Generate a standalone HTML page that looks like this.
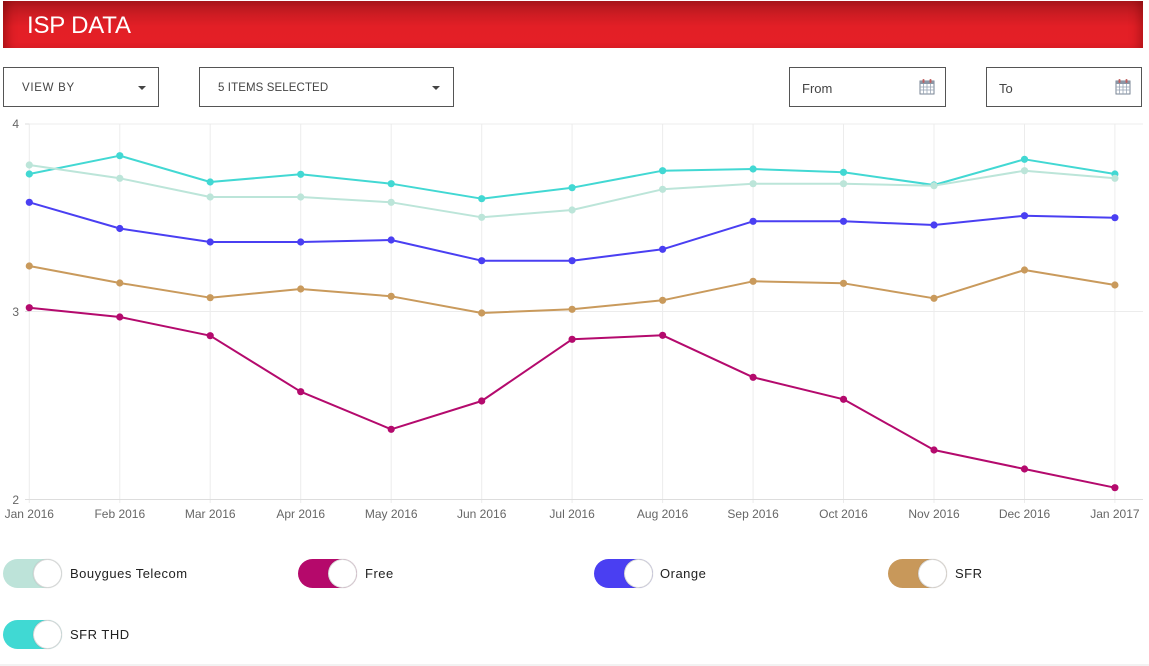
<!DOCTYPE html>
<html><head><meta charset="utf-8"><style>
*{margin:0;padding:0;box-sizing:border-box}
html,body{width:1149px;height:666px;background:#fff;overflow:hidden;font-family:"Liberation Sans",Arial,sans-serif}
.hdr{position:absolute;left:3px;top:1px;width:1140px;height:47px;background:linear-gradient(to bottom,#ad171c 0%,#cf1c23 30%,#e31f26 55%,#e41f27 100%);box-shadow:inset 10px 0 10px -6px rgba(90,0,0,.45),inset -10px 0 10px -6px rgba(90,0,0,.35)}
.hdr span{position:absolute;left:24px;top:11px;color:#fff;font-size:24px;letter-spacing:-0.2px}
.box{position:absolute;border:1.5px solid #555;background:#fff;color:#444}
.box .t{position:absolute;font-size:11.5px;top:14px}
.caret{position:absolute;width:0;height:0;border-left:4px solid transparent;border-right:4px solid transparent;border-top:4px solid #444;top:18px}
.tg{position:absolute;width:59px;height:29px;border-radius:15px}
.tg .k{position:absolute;right:0;top:0;width:29px;height:29px;border-radius:50%;background:#fff;border:1.5px solid rgba(0,0,0,.15);box-shadow:0 0 1px rgba(0,0,0,.2)}
.lt{position:absolute;font-size:13px;color:#222;letter-spacing:.5px}
</style></head><body>
<div class="hdr"><span>ISP DATA</span></div>

<div class="box" style="left:3px;top:67px;width:156px;height:40px"><span class="t" style="left:18px;letter-spacing:.7px">VIEW BY</span><div class="caret" style="left:134px"></div></div>
<div class="box" style="left:199px;top:67px;width:255px;height:40px"><span class="t" style="left:18px;letter-spacing:.1px">5 ITEMS SELECTED</span><div class="caret" style="left:232px"></div></div>
<div class="box" style="left:789px;top:67px;width:157px;height:40px"><span class="t" style="left:12px;font-size:13px;top:13px">From</span>
<svg style="position:absolute;left:129px;top:10px" width="16" height="17" viewBox="0 0 16 17"><rect x="1" y="3" width="14" height="13" fill="#fff" stroke="#7a8696" stroke-width="1"/><rect x="1" y="3" width="14" height="3" fill="#8a96a6"/><g stroke="#9aa6b6" stroke-width=".8"><line x1="1" y1="9" x2="15" y2="9"/><line x1="1" y1="12" x2="15" y2="12"/><line x1="4.5" y1="6" x2="4.5" y2="16"/><line x1="8" y1="6" x2="8" y2="16"/><line x1="11.5" y1="6" x2="11.5" y2="16"/></g><rect x="3.5" y="1" width="2" height="4" rx="1" fill="#c06060"/><rect x="10.5" y="1" width="2" height="4" rx="1" fill="#c06060"/></svg></div>
<div class="box" style="left:986px;top:67px;width:156px;height:40px"><span class="t" style="left:12px;font-size:13px;top:13px">To</span>
<svg style="position:absolute;left:128px;top:10px" width="16" height="17" viewBox="0 0 16 17"><rect x="1" y="3" width="14" height="13" fill="#fff" stroke="#7a8696" stroke-width="1"/><rect x="1" y="3" width="14" height="3" fill="#8a96a6"/><g stroke="#9aa6b6" stroke-width=".8"><line x1="1" y1="9" x2="15" y2="9"/><line x1="1" y1="12" x2="15" y2="12"/><line x1="4.5" y1="6" x2="4.5" y2="16"/><line x1="8" y1="6" x2="8" y2="16"/><line x1="11.5" y1="6" x2="11.5" y2="16"/></g><rect x="3.5" y="1" width="2" height="4" rx="1" fill="#c06060"/><rect x="10.5" y="1" width="2" height="4" rx="1" fill="#c06060"/></svg></div>

<svg style="position:absolute;left:0;top:110px" width="1149" height="420" viewBox="0 110 1149 420">
<g stroke="#ececec" stroke-width="1">
<line x1="29.3" y1="124" x2="1143" y2="124"/>
<line x1="29.3" y1="311.5" x2="1143" y2="311.5"/>
<line x1="29.3" y1="124" x2="29.3" y2="503"/>
<line x1="119.8" y1="124" x2="119.8" y2="503"/>
<line x1="210.2" y1="124" x2="210.2" y2="503"/>
<line x1="300.7" y1="124" x2="300.7" y2="503"/>
<line x1="391.2" y1="124" x2="391.2" y2="503"/>
<line x1="481.7" y1="124" x2="481.7" y2="503"/>
<line x1="572.1" y1="124" x2="572.1" y2="503"/>
<line x1="662.6" y1="124" x2="662.6" y2="503"/>
<line x1="753.1" y1="124" x2="753.1" y2="503"/>
<line x1="843.5" y1="124" x2="843.5" y2="503"/>
<line x1="934" y1="124" x2="934" y2="503"/>
<line x1="1024.5" y1="124" x2="1024.5" y2="503"/>
<line x1="1114.9" y1="124" x2="1114.9" y2="503"/>
</g>
<g stroke="#ddd" stroke-width="1">
<line x1="29.3" y1="499.5" x2="1143" y2="499.5"/>
<line x1="25" y1="124" x2="29.3" y2="124"/>
<line x1="25" y1="311.5" x2="29.3" y2="311.5"/>
<line x1="25" y1="499.5" x2="29.3" y2="499.5"/>
</g>
<g font-size="12" fill="#666" text-anchor="end">
<text x="19" y="128">4</text><text x="19" y="316">3</text><text x="19" y="504">2</text>
</g>
<g font-size="12" fill="#666" text-anchor="middle">
<text x="29.3" y="518">Jan 2016</text><text x="119.8" y="518">Feb 2016</text><text x="210.2" y="518">Mar 2016</text><text x="300.7" y="518">Apr 2016</text><text x="391.2" y="518">May 2016</text><text x="481.7" y="518">Jun 2016</text><text x="572.1" y="518">Jul 2016</text><text x="662.6" y="518">Aug 2016</text><text x="753.1" y="518">Sep 2016</text><text x="843.5" y="518">Oct 2016</text><text x="934" y="518">Nov 2016</text><text x="1024.5" y="518">Dec 2016</text><text x="1114.9" y="518">Jan 2017</text>
</g>
<g fill="none" stroke-width="2" stroke-linejoin="round">
<polyline stroke="#42d8d3" points="29.3,174 119.8,155.7 210.2,182 300.7,174.3 391.2,183.7 481.7,198.7 572.1,187.7 662.6,170.7 753.1,169 843.5,172.3 934,185 1024.5,159.3 1114.9,174"/>
<polyline stroke="#bce5d9" points="29.3,165 119.8,178.3 210.2,197 300.7,197 391.2,202.3 481.7,217.3 572.1,210 662.6,189.3 753.1,183.7 843.5,183.7 934,185.7 1024.5,170.7 1114.9,178.3"/>
<polyline stroke="#4a3ff2" points="29.3,202.3 119.8,228.5 210.2,242 300.7,242 391.2,240 481.7,260.7 572.1,260.7 662.6,249.3 753.1,221.3 843.5,221.3 934,225 1024.5,215.7 1114.9,217.7"/>
<polyline stroke="#c99a5c" points="29.3,266 119.8,283 210.2,297.7 300.7,289 391.2,296.3 481.7,313 572.1,309.3 662.6,300.3 753.1,281.3 843.5,283.3 934,298.3 1024.5,270 1114.9,285"/>
<polyline stroke="#b40a6d" points="29.3,307.7 119.8,317 210.2,335.7 300.7,391.7 391.2,429.3 481.7,401 572.1,339.3 662.6,335.3 753.1,377.3 843.5,399.3 934,450 1024.5,469 1114.9,487.7"/>
</g>
<g fill="#42d8d3"><circle cx="29.3" cy="174" r="3.6"/><circle cx="119.8" cy="155.7" r="3.6"/><circle cx="210.2" cy="182" r="3.6"/><circle cx="300.7" cy="174.3" r="3.6"/><circle cx="391.2" cy="183.7" r="3.6"/><circle cx="481.7" cy="198.7" r="3.6"/><circle cx="572.1" cy="187.7" r="3.6"/><circle cx="662.6" cy="170.7" r="3.6"/><circle cx="753.1" cy="169" r="3.6"/><circle cx="843.5" cy="172.3" r="3.6"/><circle cx="934" cy="185" r="3.6"/><circle cx="1024.5" cy="159.3" r="3.6"/><circle cx="1114.9" cy="174" r="3.6"/></g>
<g fill="#bce5d9"><circle cx="29.3" cy="165" r="3.6"/><circle cx="119.8" cy="178.3" r="3.6"/><circle cx="210.2" cy="197" r="3.6"/><circle cx="300.7" cy="197" r="3.6"/><circle cx="391.2" cy="202.3" r="3.6"/><circle cx="481.7" cy="217.3" r="3.6"/><circle cx="572.1" cy="210" r="3.6"/><circle cx="662.6" cy="189.3" r="3.6"/><circle cx="753.1" cy="183.7" r="3.6"/><circle cx="843.5" cy="183.7" r="3.6"/><circle cx="934" cy="185.7" r="3.6"/><circle cx="1024.5" cy="170.7" r="3.6"/><circle cx="1114.9" cy="178.3" r="3.6"/></g>
<g fill="#4a3ff2"><circle cx="29.3" cy="202.3" r="3.6"/><circle cx="119.8" cy="228.5" r="3.6"/><circle cx="210.2" cy="242" r="3.6"/><circle cx="300.7" cy="242" r="3.6"/><circle cx="391.2" cy="240" r="3.6"/><circle cx="481.7" cy="260.7" r="3.6"/><circle cx="572.1" cy="260.7" r="3.6"/><circle cx="662.6" cy="249.3" r="3.6"/><circle cx="753.1" cy="221.3" r="3.6"/><circle cx="843.5" cy="221.3" r="3.6"/><circle cx="934" cy="225" r="3.6"/><circle cx="1024.5" cy="215.7" r="3.6"/><circle cx="1114.9" cy="217.7" r="3.6"/></g>
<g fill="#c99a5c"><circle cx="29.3" cy="266" r="3.6"/><circle cx="119.8" cy="283" r="3.6"/><circle cx="210.2" cy="297.7" r="3.6"/><circle cx="300.7" cy="289" r="3.6"/><circle cx="391.2" cy="296.3" r="3.6"/><circle cx="481.7" cy="313" r="3.6"/><circle cx="572.1" cy="309.3" r="3.6"/><circle cx="662.6" cy="300.3" r="3.6"/><circle cx="753.1" cy="281.3" r="3.6"/><circle cx="843.5" cy="283.3" r="3.6"/><circle cx="934" cy="298.3" r="3.6"/><circle cx="1024.5" cy="270" r="3.6"/><circle cx="1114.9" cy="285" r="3.6"/></g>
<g fill="#b40a6d"><circle cx="29.3" cy="307.7" r="3.6"/><circle cx="119.8" cy="317" r="3.6"/><circle cx="210.2" cy="335.7" r="3.6"/><circle cx="300.7" cy="391.7" r="3.6"/><circle cx="391.2" cy="429.3" r="3.6"/><circle cx="481.7" cy="401" r="3.6"/><circle cx="572.1" cy="339.3" r="3.6"/><circle cx="662.6" cy="335.3" r="3.6"/><circle cx="753.1" cy="377.3" r="3.6"/><circle cx="843.5" cy="399.3" r="3.6"/><circle cx="934" cy="450" r="3.6"/><circle cx="1024.5" cy="469" r="3.6"/><circle cx="1114.9" cy="487.7" r="3.6"/></g>
</svg>

<div class="tg" style="left:3px;top:559px;background:#bde3d9"><div class="k"></div></div>
<div class="lt" style="left:70px;top:566px">Bouygues Telecom</div>
<div class="tg" style="left:298px;top:559px;background:#b5096b"><div class="k"></div></div>
<div class="lt" style="left:365px;top:566px">Free</div>
<div class="tg" style="left:594px;top:559px;background:#4a3ff2"><div class="k"></div></div>
<div class="lt" style="left:660px;top:566px">Orange</div>
<div class="tg" style="left:888px;top:559px;background:#c8985a"><div class="k"></div></div>
<div class="lt" style="left:955px;top:566px">SFR</div>
<div class="tg" style="left:3px;top:620px;background:#40d9d3"><div class="k"></div></div>
<div class="lt" style="left:70px;top:627px">SFR THD</div>

<div style="position:absolute;left:0;top:664px;width:1149px;height:2px;background:#f2f2f2"></div>
</body></html>
